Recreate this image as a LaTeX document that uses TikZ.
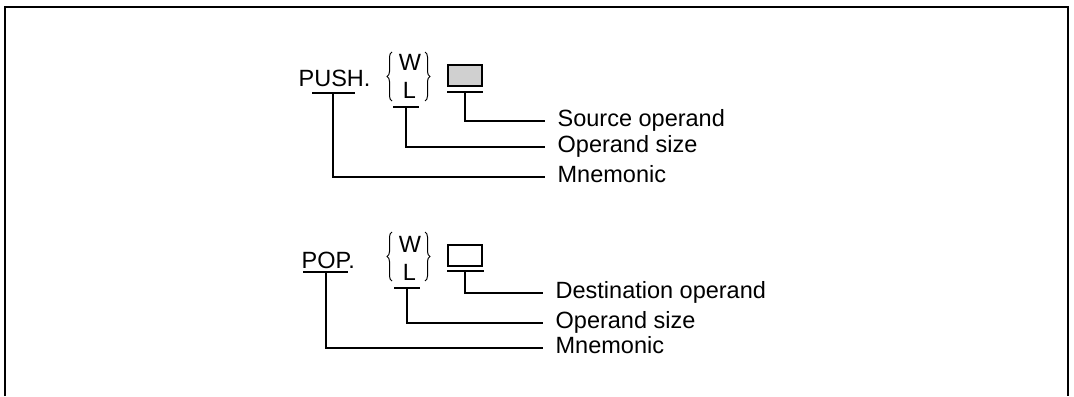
\documentclass[tikz,border=0pt]{standalone}
\usepackage{fontspec}
\setmainfont{Liberation Sans}
\usetikzlibrary{decorations.pathreplacing}
\definecolor{OpGray}{HTML}{D0D0D0}

\begin{document}
\begin{tikzpicture}[x=0.5pt, y=-0.5pt, line width=0.65pt,
    txt/.style={inner sep=0pt, font=\fontsize{11.75}{14}\selectfont},
    lbl/.style={txt, anchor=mid west, inner xsep=6pt},
    uline/.style={line width=0.8pt},
    brc/.style={decorate, decoration={brace, amplitude=2.5pt}, line width=0.5pt}]
    \useasboundingbox (0,0) rectangle (1074,396);

    % Frame (open at the bottom)
    \draw[line width=0.8pt] (5,396) -- (5,7) -- (1068,7) -- (1068,396);

    % PUSH instruction
    \node[txt, anchor=base west] (push) at (298,86) {PUSH.};
    \node[txt, anchor=base] (pushW) at (410,70) {W};
    \node[txt, anchor=base] (pushL) at (409.5,98) {L};
    \draw[brc] (392,101) -- (392,52);
    \draw[brc] (425,52) -- (425,101);
    \draw[fill=OpGray, line width=0.75pt] (448,65) rectangle (482,86);

    % underlines
    \draw[uline] (312,93) -- (355,93);
    \draw[uline] (393,107) -- (419,107);
    \draw[uline] (447,92) -- (483,92);
    \coordinate (pushU) at (333,93);
    \coordinate (pushLU) at (406,107);
    \coordinate (pushBU) at (465,92);

    % labels
    \node[lbl] (src) at (545,121) {Source operand};
    \node[lbl] (size1) at (545,147) {Operand size};
    \node[lbl] (mnem1) at (545,177) {Mnemonic};
    \draw (pushBU) |- (src.mid west);
    \draw (pushLU) |- (size1.mid west);
    \draw (pushU) |- (mnem1.mid west);

    % POP instruction
    \node[txt, anchor=base west] (pop) at (301,268) {POP.};
    \node[txt, anchor=base] (popW) at (410,252) {W};
    \node[txt, anchor=base] (popL) at (409.5,280) {L};
    \draw[brc] (392,281) -- (392,232);
    \draw[brc] (425,232) -- (425,281);
    \draw[fill=white, line width=0.75pt] (448,245) rectangle (482,266);

    % underlines
    \draw[uline] (303,272) -- (348,272);
    \draw[uline] (394,288) -- (420,288);
    \draw[uline] (447,271) -- (484,271);
    \coordinate (popU) at (326,272);
    \coordinate (popLU) at (407,288);
    \coordinate (popBU) at (465,271);

    % labels
    \node[lbl] (dst) at (543,293) {Destination operand};
    \node[lbl] (size2) at (543,323) {Operand size};
    \node[lbl] (mnem2) at (543,348) {Mnemonic};
    \draw (popBU) |- (dst.mid west);
    \draw (popLU) |- (size2.mid west);
    \draw (popU) |- (mnem2.mid west);
\end{tikzpicture}
\end{document}
